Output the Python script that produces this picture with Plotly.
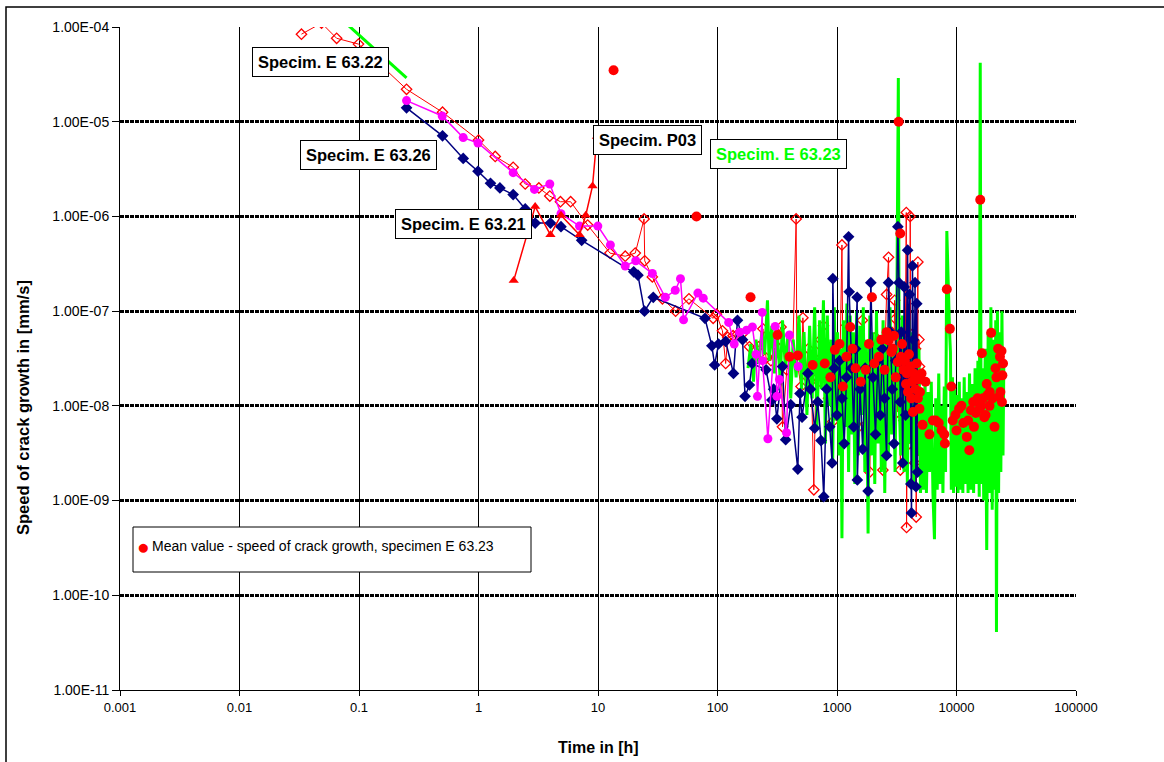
import plotly.graph_objects as go

# ---------------- data ----------------
x_tickvals = [0.001, 0.01, 0.1, 1, 10, 100, 1000, 10000, 100000]
x_ticktext = ["0.001", "0.01", "0.1", "1", "10", "100", "1000", "10000", "100000"]
y_tickvals = [1e-11, 1e-10, 1e-9, 1e-8, 1e-7, 1e-6, 1e-5, 1e-4]
y_ticktext = ["1.00E-11", "1.00E-10", "1.00E-09", "1.00E-08", "1.00E-07", "1.00E-06", "1.00E-05", "1.00E-04"]

# Specim. E 63.22 (red open diamonds)
e6322_t = [0.033, 0.0486, 0.065, 0.099, 0.25, 0.5, 1.0, 1.38, 1.95, 2.46, 3.2, 3.95, 4.85, 5.9, 8.2,
           12.6, 16.9, 20.5, 24.3, 24.6, 28.5, 34.6, 44.6, 57.7, 92, 98, 110, 117, 122, 135, 147, 160,
           185, 221, 240, 255, 280, 300, 340, 350, 380, 425, 455, 462, 500, 518, 545, 575, 610, 640,
           670, 700, 730, 770, 800, 850, 880, 920, 960, 1010, 1050, 1100, 1120, 1160, 1210, 1260,
           1310, 1360, 1410, 1460, 1520, 1570, 1630, 1690, 1740, 1800, 1880, 1950, 2020, 2100, 2180,
           2250, 2330, 2420, 2500, 2600, 2700, 2780, 2870, 2950, 3040, 3080, 3150, 3230, 3310, 3390,
           3470, 3550, 3630, 3720, 3800, 3820, 3900, 3980, 4050, 4100, 4140, 4180, 4250, 4320, 4400,
           4480, 4540, 4600, 4680, 4750, 4780, 4850, 4900, 4980, 5060]
e6322_v = [8.4e-5, 1.1e-4, 7.6e-5, 6.6e-5, 2.2e-5, 1.26e-5, 6.4e-6, 4.3e-6, 3.3e-6, 2.2e-6, 2.0e-6,
           1.64e-6, 1.43e-6, 1.43e-6, 8.1e-7, 4.1e-7, 3.8e-7, 4.1e-7, 9.4e-7, 3.4e-7, 2.3e-7, 1.35e-7,
           1.0e-7, 1.35e-7, 8.4e-8, 9.3e-8, 6.2e-8, 2.8e-8, 5.3e-8, 5.5e-8, 5.7e-8, 5.7e-8, 4.2e-8,
           4.2e-8, 6.5e-8, 3.2e-8, 3.0e-8, 4.5e-8, 6.8e-8, 6e-9, 2.4e-8, 3.2e-8, 9.4e-7, 3.0e-8,
           1.6e-8, 8.5e-8, 2.1e-8, 4.0e-8, 2.0e-8, 1.3e-9, 3.7e-8, 1.8e-8, 5e-8, 7e-8, 2.7e-8,
           1.2e-8, 3.5e-8, 6.8e-9, 2.2e-8, 4.5e-8, 1.5e-8, 5e-7, 2.5e-8, 1e-8, 7.1e-8, 1.8e-8, 4e-8,
           2.9e-8, 1.1e-8, 3.5e-8, 6e-9, 2.3e-8, 8e-8, 1.5e-8, 6.3e-9, 3e-8, 2e-9, 1.8e-8, 4e-8,
           5.3e-8, 1.1e-8, 3e-8, 6e-9, 2.1e-9, 2.5e-8, 1.5e-7, 3.7e-7, 2e-8, 6e-8, 1e-8, 1.3e-7,
           8.3e-8, 2e-8, 8.6e-9, 3e-8, 2.1e-9, 1.6e-8, 5e-8, 7e-9, 2.8e-8, 1.1e-6, 5.2e-10, 1.5e-8,
           6e-8, 4e-9, 1e-6, 2.2e-8, 5e-9, 3.5e-8, 4.9e-8, 1.2e-8, 2.5e-9, 4e-8, 6.7e-10, 1.8e-8,
           3.3e-7, 3.4e-9, 5e-8, 2.6e-8, 8e-9, 2.1e-9]

# Specim. E 63.21 (navy diamonds)
e6321_t = [0.25, 0.5, 0.745, 0.99, 1.26, 1.51, 1.95, 2.46, 2.98, 4.0, 4.9, 7.3, 19.9, 21.6, 24.5, 29,
           78.6, 89.7, 94.6, 102, 117, 136, 147, 162, 170, 185, 195, 255, 285, 295, 314, 350, 372,
           410, 470, 490, 510, 570, 600, 650, 690, 735, 775, 820, 870, 910, 923, 950, 1000, 1050,
           1100, 1150, 1200, 1250, 1265, 1320, 1380, 1430, 1475, 1480, 1560, 1640, 1720, 1820, 1920,
           2000, 2100, 2200, 2300, 2400, 2500, 2600, 2700, 2800, 2900, 3000, 3100, 3230, 3300, 3380,
           3450, 3550, 3650, 3750, 3900, 3950, 4050, 4150, 4200, 4280, 4350, 4420, 4500, 4580, 4650,
           4720]
e6321_v = [1.4e-5, 7.1e-6, 4.1e-6, 3.0e-6, 2.24e-6, 2.0e-6, 1.7e-6, 1.2e-6, 8.5e-7, 8.5e-7, 7.8e-7,
           5.6e-7, 2.6e-7, 2.4e-7, 1.0e-7, 1.4e-7, 8.4e-8, 4.3e-8, 2.7e-8, 4.5e-8, 4.8e-8, 2.2e-8,
           8e-8, 5e-8, 1.26e-8, 1.66e-8, 2.8e-8, 2.4e-8, 1.15e-8, 1.5e-8, 7.3e-9, 2.6e-8, 4.4e-9,
           1.03e-8, 2.15e-9, 1.35e-8, 7.6e-9, 2.2e-8, 1.5e-8, 5.8e-9, 1.1e-8, 4.3e-9, 1.1e-9, 1.5e-8,
           6e-9, 2.5e-9, 2.2e-7, 2.5e-8, 8e-9, 3e-8, 1.2e-8, 4e-9, 2e-8, 6.1e-7, 1.6e-7, 2.5e-8,
           6e-9, 4e-8, 1.4e-7, 1.65e-9, 1.5e-8, 3.5e-9, 2.5e-8, 1.26e-9, 2e-7, 2e-8, 5e-9, 3e-8, 8e-9,
           4e-8, 1.2e-8, 3e-9, 2e-7, 6e-8, 1.5e-8, 4e-9, 3e-8, 7.8e-7, 2e-7, 1.1e-8, 6e-8, 2.5e-9,
           1.8e-7, 8e-9, 4.4e-7, 2e-8, 1.5e-7, 1.5e-9, 7.4e-10, 3e-7, 5e-8, 9e-9, 2e-7, 1.4e-9,
           1.2e-7, 2e-9]

# Specim. E 63.26 (magenta circles)
e6326_t = [0.25, 0.497, 0.745, 0.99, 1.95, 2.94, 3.95, 4.9, 7.0, 9.97, 12.7, 16.9, 20.7, 28.5, 36.6,
           44.3, 49, 52, 68.5, 76, 124, 138, 153, 175, 196, 210, 216, 237, 238, 264, 304, 314, 330,
           378, 400, 474]
e6326_v = [1.67e-5, 1.15e-5, 6.8e-6, 5.96e-6, 2.9e-6, 1.93e-6, 2.2e-6, 1.07e-6, 7.9e-7, 7.9e-7,
           5.0e-7, 3.0e-7, 3.4e-7, 2.5e-7, 1.4e-7, 1.66e-7, 2.2e-7, 8.1e-8, 1.55e-7, 1.37e-7, 7.6e-8,
           4.5e-8, 6e-8, 6.3e-8, 6.8e-8, 3.5e-8, 1.26e-8, 9.7e-8, 3e-8, 4.5e-9, 6.9e-8, 1.26e-8,
           1.9e-8, 5.2e-9, 5.6e-8, 2.6e-8]

# Specim. P03 (red triangles)
p03_t = [1.97, 2.98, 4.0, 4.9, 7.0, 7.9, 9.0, 9.8]
p03_v = [2.1e-7, 1.27e-6, 6.4e-7, 1.03e-6, 6.4e-7, 1.03e-6, 2.1e-6, 7e-6]

# Specim. E 63.23 (green line) - early part and long-term part
e6323a_t = [0.074, 0.25]
e6323a_v = [1.16e-4, 2.9e-5]
e6323b_t = [180, 190, 200, 210, 222, 235, 248, 262, 270, 285, 300, 318, 335, 350, 370, 390, 410, 430,
            455, 480, 505, 530, 560, 590, 620, 650, 680, 715, 740, 770, 800, 830, 860, 890, 920, 950,
            980, 1010, 1040, 1070, 1100, 1130, 1170, 1210, 1250, 1290, 1330, 1370, 1410, 1460, 1510,
            1560, 1610, 1660, 1710, 1760, 1820, 1880, 1940, 2000, 2070, 2140, 2210, 2280, 2350, 2430,
            2510, 2600, 2690, 2780, 2870, 2960, 3060, 3160, 3260, 3320, 3420, 3530, 3640, 3760, 3880,
            4000, 4130, 4260, 4400, 4550, 4700, 4850, 5000, 5150, 5300, 5450, 5600, 5800, 5950, 6150,
            6350, 6540, 6700, 6900, 7100, 7300, 7500, 7700, 7900, 8100, 8300, 8500, 8750, 8900, 9050,
            9250, 9450, 9650, 9850, 10050, 10300, 10550, 10800, 11050, 11300, 11600, 11900, 12200,
            12500, 12850, 13200, 13550, 13900, 14300, 14700, 15100, 15500, 15800, 16100, 16500,
            16900, 17400, 17900, 18400, 18900, 19400, 19900, 20400, 20900, 21300, 21600, 22000,
            22500, 23000, 23500, 24000, 24500, 24900]
e6323b_v = [2.5e-8, 4.5e-8, 1.8e-8, 5e-8, 2.8e-8, 6e-8, 3.5e-8, 1.3e-7, 3e-8, 7e-8, 2.2e-8, 5.5e-8,
            1.8e-8, 8e-8, 2.5e-8, 6e-8, 1.2e-8, 5e-8, 2e-8, 9e-8, 1.5e-8, 6e-8, 8e-9, 7e-8, 1.2e-8,
            1.1e-7, 6e-9, 8e-8, 1.5e-8, 1.3e-7, 4e-9, 9e-8, 1e-8, 5e-8, 2.5e-9, 1.1e-7, 7e-9, 6e-8,
            3e-9, 4e-8, 4e-10, 8e-8, 6e-9, 1.2e-7, 2e-9, 9e-8, 5e-9, 6e-8, 1.5e-9, 1e-7, 3e-9, 7e-8,
            8e-9, 1.1e-7, 2e-9, 5e-8, 4.5e-10, 9e-8, 3e-9, 6e-8, 1.5e-9, 1e-7, 4e-9, 5e-8, 2e-9, 8e-8,
            1.2e-9, 6e-8, 3e-9, 1.1e-7, 5e-9, 4e-8, 2e-9, 7e-8, 2.9e-5, 1e-8, 3e-9, 9e-8, 2e-9, 5e-8,
            1.5e-9, 8e-8, 4e-9, 6e-8, 1.3e-9, 5e-8, 3e-9, 4e-8, 1.2e-9, 1.5e-8, 1.3e-9, 2e-8, 1.2e-9,
            1.4e-8, 2e-9, 1.8e-8, 1.2e-9, 3.9e-10, 1.2e-8, 1.3e-9, 2.2e-8, 1.5e-9, 1e-8, 1.2e-9,
            1.6e-8, 2e-9, 7e-7, 1.7e-7, 6e-8, 3.7e-8, 1.3e-9, 2e-8, 1.2e-9, 1.5e-8, 1.4e-9, 1.3e-8,
            1.2e-9, 1.8e-8, 1.3e-9, 1.2e-8, 1.2e-9, 2e-8, 1.5e-9, 1.4e-8, 1.2e-9, 2.2e-8, 1.3e-9,
            1.7e-8, 1.2e-9, 2.5e-8, 1.5e-9, 3e-8, 1.1e-9, 4.2e-5, 1.5e-9, 2.5e-8, 1e-9, 4e-8, 3e-10,
            6e-8, 1.2e-9, 1.1e-7, 8e-10, 5e-8, 1.3e-9, 8e-8, 4.1e-11, 1e-7, 1.2e-9, 6e-8, 2e-9, 1e-7,
            3e-9, 3e-8]

# Mean value - speed of crack growth, specimen E 63.23 (red filled circles)
mean_t = [13.5, 66.7, 189, 318, 400, 470, 625, 790, 880, 960, 1050, 1120, 1200, 1290, 1350, 1430,
          1580, 1740, 1850, 1960, 2050, 2240, 2350, 2500, 2600, 2700, 2850, 2930, 3000, 3100, 3230,
          3280, 3380, 3420, 3500, 3600, 3700, 3780, 3850, 3930, 4000, 4100, 4180, 4250, 4320, 4400,
          4550, 4650, 4750, 4800, 4900, 4950, 5100, 5200, 5500, 5940, 6350, 6700, 7100, 7500, 7900,
          8000, 8300, 8800, 9050, 9300, 9800, 10000, 10500, 11000, 11400, 12200, 12500, 12800,
          13200, 13800, 14000, 14500, 15000, 15600, 15800, 16000, 16300, 16700, 17100, 17500,
          17900, 18200, 18900, 19000, 19500, 20000, 20800, 21200, 21600, 22300, 22700, 23100,
          23300, 23800, 24000, 24200, 24500]
mean_v = [3.5e-5, 1e-6, 1.4e-7, 5.6e-8, 3.3e-8, 3.4e-8, 2.7e-8, 2.8e-8, 2e-8, 3.9e-8, 4.5e-8, 1.6e-8,
          3.3e-8, 6.8e-8, 4e-8, 2.5e-8, 1.8e-8, 2.4e-8, 4.5e-8, 1.4e-7, 2.8e-8, 3.3e-8, 5e-8, 2.4e-8,
          6e-8, 4.9e-8, 3.7e-8, 4e-8, 5.5e-8, 2e-8, 2.9e-8, 1e-5, 6.6e-7, 3.3e-8, 4.5e-8, 2.4e-8,
          3e-8, 1.7e-8, 2.2e-8, 1.4e-8, 3.5e-8, 2.6e-8, 1.2e-8, 1.8e-8, 8.6e-9, 2.2e-8, 1.5e-8,
          2.8e-8, 1.2e-8, 1.9e-8, 9.3e-9, 1.4e-8, 2.2e-8, 6.3e-9, 1.8e-8, 5e-9, 7e-9, 7e-9, 6.6e-9,
          5.5e-9, 5e-9, 4e-9, 1.7e-7, 6.5e-8, 1.6e-8, 7e-9, 8e-9, 5.5e-9, 9.3e-9, 1e-8, 6.6e-9,
          4.7e-9, 7e-9, 3.4e-9, 9e-9, 1.1e-8, 6e-9, 8.4e-9, 1.2e-8, 9.3e-9, 1.5e-6, 1e-8, 3.6e-8,
          1.2e-8, 7.6e-9, 8e-9, 1.7e-8, 1.3e-8, 1e-8, 1.4e-8, 5.9e-8, 1.2e-8, 6e-9, 2.5e-8, 2e-8,
          4e-8, 1.25e-8, 3.3e-8, 1.4e-8, 3.8e-8, 1.1e-8, 2.1e-8, 2.8e-8]
mean_label = "Mean value - speed of crack growth, specimen E 63.23"

# ---------------- figure ----------------
FONT = "Arial, Liberation Sans, sans-serif"
RED, MAG, NAVY, GREEN = "#FF0000", "#FF00FF", "#000080", "#00FF00"

fig = go.Figure()

fig.add_trace(go.Scatter(x=e6322_t, y=e6322_v, mode="lines+markers", showlegend=False,
                         name="Specim. E 63.22",
                         line=dict(color=RED, width=1),
                         marker=dict(symbol="diamond-open", size=8, color=RED, line=dict(width=1.3))))
fig.add_trace(go.Scatter(x=e6323a_t, y=e6323a_v, mode="lines", showlegend=False,
                         name="Specim. E 63.23", line=dict(color=GREEN, width=3)))
fig.add_trace(go.Scatter(x=e6323b_t, y=e6323b_v, mode="lines", showlegend=False,
                         name="Specim. E 63.23", line=dict(color=GREEN, width=3)))
fig.add_trace(go.Scatter(x=e6321_t, y=e6321_v, mode="lines+markers", showlegend=False,
                         name="Specim. E 63.21", line=dict(color=NAVY, width=1.5),
                         marker=dict(symbol="diamond", size=9, color=NAVY)))
fig.add_trace(go.Scatter(x=e6326_t, y=e6326_v, mode="lines+markers", showlegend=False,
                         name="Specim. E 63.26", line=dict(color=MAG, width=1.5),
                         marker=dict(symbol="circle", size=9, color=MAG)))
fig.add_trace(go.Scatter(x=p03_t, y=p03_v, mode="lines+markers", showlegend=False,
                         name="Specim. P03", line=dict(color=RED, width=1.5),
                         marker=dict(symbol="triangle-up", size=9, color=RED)))
fig.add_trace(go.Scatter(x=mean_t, y=mean_v, mode="markers", showlegend=False,
                         name=mean_label, marker=dict(symbol="circle", size=10, color=RED)))

W, H = 1164, 762
# plot area in screen pixels (page body margin is removed by the post script)
SX0, SX1, SY0, SY1 = 120, 1076, 27, 690
PW, PH = SX1 - SX0, SY1 - SY0
L, T, R, B = SX0, SY0, W - SX1, H - SY1


def px_x(px):
    return (px - SX0) / PW


def px_y(py):
    return (SY1 - py) / PH


labels = [
    ("<b>Specim. E 63.22</b>", 320.5, 62, "black"),
    ("<b>Specim. E 63.26</b>", 368, 155, "black"),
    ("<b>Specim. E 63.21</b>", 463, 224, "black"),
    ("<b>Specim. P03</b>", 647.5, 140.5, "black"),
    ("<b>Specim. E 63.23</b>", 778, 154, GREEN),
]
annotations = []
for txt, ax_, ay_, col in labels:
    annotations.append(dict(text=txt, x=px_x(ax_), y=px_y(ay_), xref="paper", yref="paper",
                            xanchor="center", yanchor="middle", showarrow=False,
                            font=dict(family=FONT, size=16.5, color=col),
                            bgcolor="white", bordercolor="black", borderwidth=1, borderpad=5))
annotations.append(dict(text="<b>Time in [h]</b>", x=px_x(598), y=px_y(747), xref="paper", yref="paper",
                        xanchor="center", yanchor="middle", showarrow=False,
                        font=dict(family=FONT, size=16, color="black")))
annotations.append(dict(text="<b>Speed of crack growth in [mm/s]</b>", x=px_x(23), y=px_y(408),
                        xref="paper", yref="paper", xanchor="center", yanchor="middle",
                        showarrow=False, textangle=-90,
                        font=dict(family=FONT, size=16.5, color="black")))
# legend entry (drawn inside the legend box below)
annotations.append(dict(text="●", x=px_x(143), y=px_y(546), xref="paper", yref="paper",
                        xanchor="center", yanchor="middle", showarrow=False,
                        font=dict(family=FONT, size=21, color=RED)))
annotations.append(dict(text=mean_label, x=px_x(150), y=px_y(546), xref="paper", yref="paper",
                        xanchor="left", yanchor="middle", showarrow=False,
                        font=dict(family=FONT, size=14, color="black")))

shapes = [
    # legend box
    dict(type="rect", xref="paper", yref="paper", x0=px_x(133), x1=px_x(531), y0=px_y(572), y1=px_y(527),
         line=dict(color="black", width=1), fillcolor="white", layer="above"),
    # outer chart frame
    dict(type="rect", xref="paper", yref="paper", x0=px_x(6), x1=px_x(1220), y0=px_y(820), y1=px_y(7),
         line=dict(color="black", width=1.5), fillcolor="rgba(0,0,0,0)", layer="above"),
]

fig.update_layout(
    width=W, height=H,
    margin=dict(l=L, r=R, t=T, b=B, autoexpand=False),
    paper_bgcolor="white", plot_bgcolor="white",
    font=dict(family=FONT, size=13, color="black"),
    showlegend=False,
    annotations=annotations,
    shapes=shapes,
    xaxis=dict(type="log", range=[-3, 5], tickvals=x_tickvals, ticktext=x_ticktext,
               showgrid=True, gridcolor="black", gridwidth=1,
               showline=True, linecolor="black", linewidth=1,
               ticks="outside", ticklen=5, tickcolor="black", tickfont=dict(size=13),
               zeroline=False),
    yaxis=dict(type="log", range=[-11, -4], tickvals=y_tickvals, ticktext=y_ticktext,
               showgrid=True, gridcolor="black", gridwidth=2.5, griddash="4px,1px",
               showline=True, linecolor="black", linewidth=1,
               ticks="outside", ticklen=7, tickcolor="black", tickfont=dict(size=14),
               zeroline=False),
)

fig.write_html("out.html", config={"displayModeBar": False},
               post_script="document.body.style.margin='0px';document.body.style.overflow='hidden';")
